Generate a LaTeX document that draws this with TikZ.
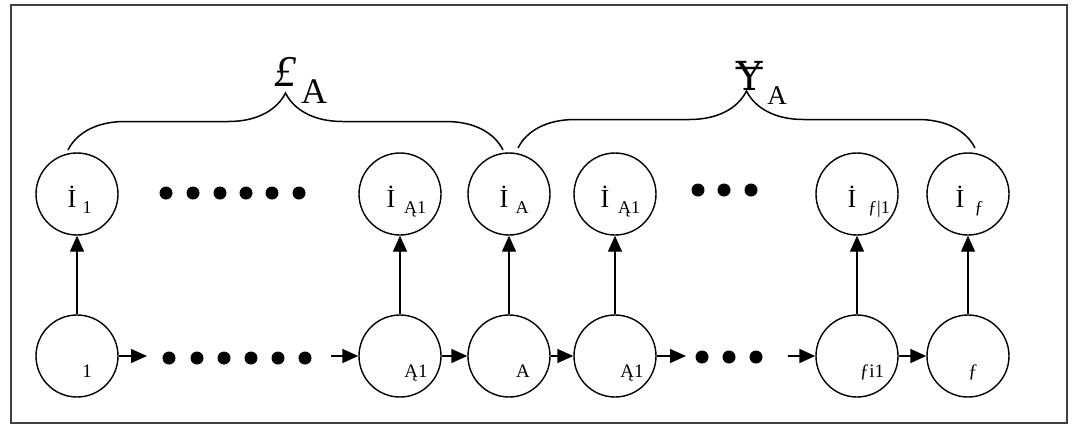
\documentclass[tikz,border=0pt]{standalone}
\usepackage{fontspec}
\setmainfont{Liberation Serif}
\newfontfamily\dvs{DejaVu Serif}
\usetikzlibrary{arrows.meta,decorations.pathreplacing,calc}
\begin{document}
\begin{tikzpicture}[x=1pt,y=-1pt,
  st/.style={circle,draw,line width=1.4pt,minimum size=82pt,inner sep=0pt},
  arr/.style={line width=1.4pt,-{Triangle[length=16pt,width=14pt]}},
  dotc/.style={circle,fill=black,minimum size=13pt,inner sep=0pt},
  big/.style={anchor=base,inner sep=0pt,font=\fontsize{26}{26}\selectfont},
  sub/.style={anchor=base,inner sep=0pt,font=\fontsize{18}{18}\selectfont},
  bsub/.style={anchor=base,inner sep=0pt,font=\fontsize{19}{19}\selectfont},
  brc/.style={line width=1.5pt,decorate,decoration={brace,amplitude=57pt}}]
\useasboundingbox (0,0) rectangle (1074,424);
\draw[line width=1.8pt,black!75] (11,5) rectangle (1067,423);
% top row
\node[st] (t1) at (77,194) {};
\node[st] (t2) at (400,194) {};
\node[st] (t3) at (509,194) {};
\node[st] (t4) at (615,194) {};
\node[st] (t5) at (857,194) {};
\node[st] (t6) at (968,194) {};
% bottom row
\node[st] (b1) at (77,356) {};
\node[st] (b2) at (400,356) {};
\node[st] (b3) at (509,356) {};
\node[st] (b4) at (615,356) {};
\node[st] (b5) at (857,356) {};
\node[st] (b6) at (968,356) {};
% top labels
\node[big] (lt1) at (72,207) {İ};  \node[sub] (st1) at (87,213) {1};
\node[big] (lt2) at (391,207) {İ}; \node[sub] (st2) at (415,213) {Ą1};
\node[big] (lt3) at (504,207) {İ}; \node[sub] (st3) at (522,213) {A};
\node[big] (lt4) at (605,207) {İ}; \node[sub] (st4) at (629,213) {Ą1};
\node[big] (lt5) at (852,207) {İ}; \node[sub] (st5) at (879,213) {ƒ|1};
\node[big] (lt6) at (960,207) {İ}; \node[sub] (st6) at (979,213) {ƒ};
% bottom labels
\node[bsub] (sb1) at (87,377) {1};
\node[bsub] (sb2) at (416,377) {Ą1};
\node[bsub] (sb3) at (523,377) {A};
\node[bsub] (sb4) at (632,377) {Ą1};
\node[bsub] (sb5) at (872,377) {ƒi1};
\node[bsub] (sb6) at (973,377) {ƒ};
% vertical arrows
\foreach \i in {1,...,6} {\draw[arr] (b\i) -- (t\i);}
% horizontal arrows
\coordinate (h1) at (147,356);
\coordinate (h2) at (331,356);
\coordinate (h3) at (686,356);
\coordinate (h4) at (788,356);
\draw[arr] (b1) -- (h1);
\draw[arr] (h2) -- (b2);
\draw[arr] (b2) -- (b3);
\draw[arr] (b3) -- (b4);
\draw[arr] (b4) -- (h3);
\draw[arr] (h4) -- (b5);
\draw[arr] (b5) -- (b6);
% dots
\foreach \x [count=\k] in {166,193,220,246,272,299} {\node[dotc] (td\k) at (\x,193) {};}
\foreach \x [count=\k] in {698,724,751} {\node[dotc] (tr\k) at (\x,190) {};}
\foreach \x [count=\k] in {169,197,224,251,278,305} {\node[dotc] (bd\k) at (\x,358) {};}
\foreach \x [count=\k] in {702,729,756} {\node[dotc] (br\k) at (\x,357) {};}
% braces
\coordinate (a1) at (68,150);
\coordinate (a2) at (503,150);
\coordinate (c1) at (518,148);
\coordinate (c2) at (975,148);
\draw[brc] (a1) -- (a2);
\draw[brc] (c1) -- (c2);
\node[anchor=base,inner sep=0pt,font=\itshape\fontsize{44}{44}\selectfont] (L1) at (285,86) {£};
\node[anchor=base,inner sep=0pt,font=\fontsize{36}{36}\selectfont] (L1s) at (314,103) {A};
\node[anchor=base,inner sep=0pt,font=\dvs\fontsize{40}{40}\selectfont] (L2) at (750,90) {Ɏ};
\node[anchor=base,inner sep=0pt,font=\fontsize{27}{27}\selectfont] (L2s) at (777,104) {A};
\end{tikzpicture}
\end{document}
